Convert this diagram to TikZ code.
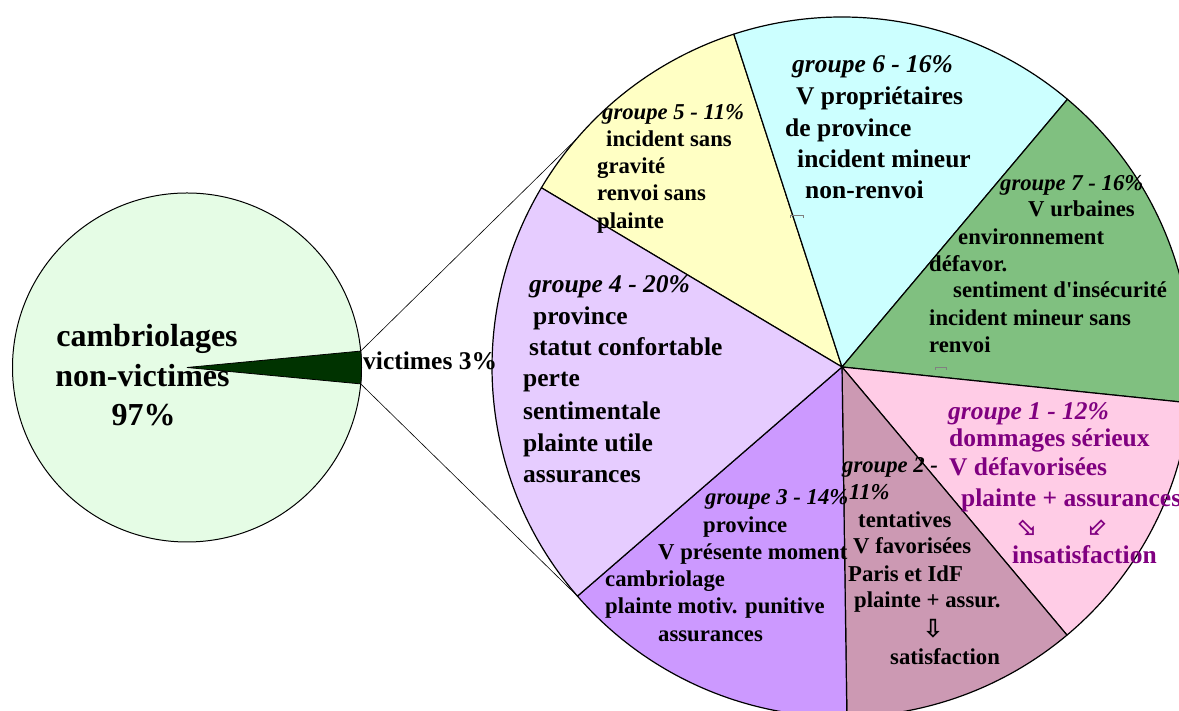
\documentclass[tikz,border=0pt]{standalone}
\usepackage{fontspec}
\setmainfont{Liberation Serif}
\newfontfamily\straightq[Ligatures=ResetAll]{Liberation Serif}
\newfontfamily\dejavu{DejaVu Sans}
\definecolor{pieLight}{HTML}{E5FCE5}
\definecolor{pieDark}{HTML}{003300}
\definecolor{gA}{HTML}{FFCCE6}
\definecolor{gB}{HTML}{CC99B3}
\definecolor{gC}{HTML}{CC99FF}
\definecolor{gD}{HTML}{E6CCFF}
\definecolor{gE}{HTML}{FFFFC4}
\definecolor{gF}{HTML}{CCFFFF}
\definecolor{gG}{HTML}{80C080}
\definecolor{txtpurple}{HTML}{800080}
\tikzset{
  slice/.style={draw=black, line width=1.2pt, line join=round},
  link/.style={draw=black, line width=0.6pt},
  tbig/.style={anchor=base west, inner sep=0pt, font=\fontsize{25.5}{30}\selectfont\bfseries},
  tbigi/.style={tbig, font=\fontsize{25.5}{30}\selectfont\bfseries\itshape},
  tsm/.style={anchor=base west, inner sep=0pt, font=\fontsize{22.7}{27}\selectfont\bfseries},
  tsmi/.style={tsm, font=\fontsize{22.7}{27}\selectfont\bfseries\itshape},
  tpie/.style={anchor=base, inner sep=0pt, font=\fontsize{32}{36}\selectfont\bfseries},
  arrowsym/.style={inner sep=0pt, font=\dejavu\fontsize{25}{25}\selectfont\bfseries},
  cornermark/.style={draw=gray, line width=0.6pt}
}
\begin{document}
\begin{tikzpicture}[x=1pt,y=1pt]
\useasboundingbox (0,0) rectangle (1179,711);
\clip (0,0) rectangle (1179,711);
\fill[white] (0,0) rectangle (1179,711);
% small pie
\coordinate (S) at (187,343.5);
\draw[fill=pieLight, line width=1pt] (S) circle[radius=174.5pt];
\draw[fill=pieDark, line width=0.8pt] (S) -- ++(-5.4:174.5pt) arc[start angle=-5.4, end angle=5.4, radius=174.5pt] -- cycle;
\coordinate (w1) at ([shift={(5.4:174.5pt)}]S);
\coordinate (w2) at ([shift={(-5.4:174.5pt)}]S);
% big pie
\coordinate (C) at (842,344);
\coordinate (b1) at ([shift={(139.4:350pt)}]C);
\coordinate (b2) at ([shift={(-139.1:350pt)}]C);
\draw[link] (w1) -- (b1);
\draw[link] (w2) -- (b2);
\draw[slice, fill=gE] (C) -- ++(149.2:350pt) arc[start angle=149.2, end angle=108, radius=350pt] -- cycle;
\draw[slice, fill=gF] (C) -- ++(108:350pt) arc[start angle=108, end angle=49.9, radius=350pt] -- cycle;
\draw[slice, fill=gG] (C) -- ++(49.9:350pt) arc[start angle=49.9, end angle=-5.9, radius=350pt] -- cycle;
\draw[slice, fill=gA] (C) -- ++(-5.9:350pt) arc[start angle=-5.9, end angle=-50, radius=350pt] -- cycle;
\draw[slice, fill=gB] (C) -- ++(-50:350pt) arc[start angle=-50, end angle=-89.2, radius=350pt] -- cycle;
\draw[slice, fill=gC] (C) -- ++(-89.2:350pt) arc[start angle=-89.2, end angle=-139.1, radius=350pt] -- cycle;
\draw[slice, fill=gD] (C) -- ++(-139.1:350pt) arc[start angle=-139.1, end angle=-210.8, radius=350pt] -- cycle;
% little gray corner marks
\draw[cornermark] (790,493) -- (790,496) -- (803,496) -- (803,493);
\draw[cornermark] (935,341) -- (935,344) -- (946,344) -- (946,341);
% small pie texts
\node[tpie] (p1) at (147,364) {cambriolages};
\node[tpie] (p2) at (142.5,324) {non-victimes};
\node[tpie] (p3) at (143.5,285) {97\%};
\node[anchor=base west, inner sep=0pt, font=\fontsize{25.5}{28}\selectfont\bfseries] (vic) at (363,341) {victimes 3\%};
% groupe 5
\node[tsmi] (g5a) at (602,591) {groupe 5 - 11\%};
\node[tsm] (g5b) at (606,564) {incident sans};
\node[tsm] (g5c) at (597,537) {gravité};
\node[tsm] (g5d) at (597,510) {renvoi sans};
\node[tsm] (g5e) at (597,482) {plainte};
% groupe 6
\node[tbigi] (g6a) at (792,638) {groupe 6 - 16\%};
\node[tbig] (g6b) at (796,606) {V propriétaires};
\node[tbig] (g6c) at (785,574) {de province};
\node[tbig] (g6d) at (797,543) {incident mineur};
\node[tbig] (g6e) at (805,512) {non-renvoi};
% groupe 7
\node[tsmi] (g7a) at (1000,520) {groupe 7 - 16\%};
\node[tsm] (g7b) at (1028,494) {V urbaines};
\node[tsm] (g7c) at (958,466) {environnement};
\node[tsm] (g7d) at (929,439) {défavor.};
\node[tsm] (g7e) at (953,413) {sentiment d{\straightq\bfseries '}insécurité};
\node[tsm] (g7f) at (929,385) {incident mineur sans};
\node[tsm] (g7g) at (929,358) {renvoi};
% groupe 1
\node[tbigi, text=txtpurple] (g1a) at (948,291) {groupe 1 - 12\%};
\node[tbig, text=txtpurple] (g1b) at (949,264) {dommages sérieux};
\node[tbig, text=txtpurple] (g1c) at (949,235) {V défavorisées};
\node[tbig, text=txtpurple] (g1d) at (961,204) {plainte + assurances};
\node[arrowsym, text=txtpurple, rotate=45] (g1e) at (1028,182) {⇩};
\node[arrowsym, text=txtpurple, rotate=-45] (g1f) at (1097,182) {⇩};
\node[tbig, text=txtpurple] (g1g) at (1012,147) {insatisfaction};
% groupe 2
\node[tsmi] (g2a) at (842,238) {groupe 2 -};
\node[tsmi] (g2b) at (849,211) {11\%};
\node[tsm] (g2c) at (858,183) {tentatives};
\node[tsm] (g2d) at (853,157) {V favorisées};
\node[tsm] (g2e) at (848,129) {Paris et IdF};
\node[tsm] (g2f) at (854,103) {plainte + assur.};
\node[arrowsym] (g2g) at (933,82) {⇩};
\node[tsm] (g2h) at (890,46) {satisfaction};
% groupe 3
\node[tsmi] (g3a) at (705,206) {groupe 3 - 14\%};
\node[tsm] (g3b) at (703,178) {province};
\node[tsm] (g3c) at (658,151) {V présente moment};
\node[tsm] (g3d) at (605,124) {cambriolage};
\node[tsm] (g3e) at (605,97) {plainte motiv. punitive};
\node[tsm] (g3f) at (658,69) {assurances};
% groupe 4
\node[tbigi] (g4a) at (529,418) {groupe 4 - 20\%};
\node[tbig] (g4b) at (533,386) {province};
\node[tbig] (g4c) at (529,355) {statut confortable};
\node[tbig] (g4d) at (523,324) {perte};
\node[tbig] (g4e) at (523,291) {sentimentale};
\node[tbig] (g4f) at (523,259) {plainte utile};
\node[tbig] (g4g) at (523,228) {assurances};
\end{tikzpicture}
\end{document}
